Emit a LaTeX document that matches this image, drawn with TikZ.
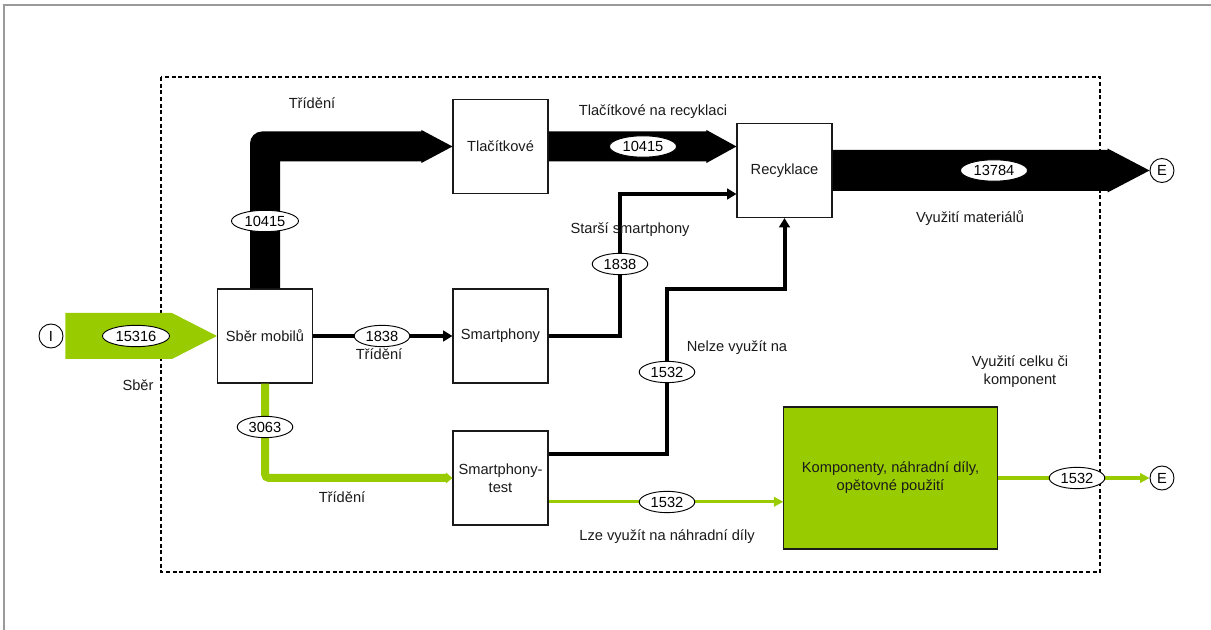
\documentclass[tikz,border=0pt]{standalone}
\usepackage{fontspec}
\setmainfont{Liberation Sans}
\usetikzlibrary{arrows.meta,shapes.geometric,calc}
\definecolor{ink}{HTML}{1A1A1A}
\definecolor{leaf}{HTML}{99CC00}
\definecolor{sheet}{HTML}{9A9A9A}
\newcommand{\Px}{0.75pt}
\newcommand{\BoxW}{71.25pt}
\newcommand{\BoxH}{70.5pt}

\begin{document}
\begin{tikzpicture}[x=\Px, y=-\Px, font=\fontsize{11}{13.5}\selectfont, ink,
  stage/.style={draw=ink, line width=0.8pt, fill=white, minimum width=\BoxW, minimum height=\BoxH, inner sep=1pt, align=center},
  amount/.style={ellipse, draw=black, line width=0.7pt, fill=white, text=black, inner xsep=2.5pt, inner ysep=0.5pt, minimum height=16pt},
  endpoint/.style={circle, draw=black, line width=0.7pt, fill=white, text=black, minimum size=18pt, inner sep=0pt},
  fat/.style={fill=black},
  blackflow/.style={draw=black, line width=3pt, -{Triangle[length=7pt,width=8pt]}},
  leafthick/.style={draw=leaf, line width=6pt, rounded corners=3pt, -{Triangle[length=5pt,width=8pt]}},
  leafflow/.style={draw=leaf, line width=2.5pt, -{Triangle[length=7pt,width=7pt]}}]
\useasboundingbox (0,0) rectangle (1211,630);

% --- Sheet edge and system boundary ------------------------------------------
\draw[sheet, line width=1.2pt] (4,630) -- (4,5) -- (1211,5);
\draw[black, line width=0.9pt, dash pattern=on 3pt off 2pt] (161,77) rectangle (1100,572);

% --- Stages ------------------------------------------------------------------
\node[endpoint] (in) at (51,336) {I};
\node[stage] (sber) at (265,336) {Sběr mobilů};
\node[stage] (tlac) at (500.5,146.5) {Tlačítkové};
\node[stage] (recyk) at (784.5,170.5) {Recyklace};
\node[stage] (smart) at (500.5,336) {Smartphony};
\node[stage] (test) at (500.5,478) {Smartphony-\\test};
\node[stage, fill=leaf, minimum width=160pt, minimum height=106.5pt] (komp) at (890.5,478) {Komponenty, náhradní díly,\\opětovné použití};
\node[endpoint] (e1) at (1162,170.5) {E};
\node[endpoint] (e2) at (1162,478) {E};

% --- Broad flows -------------------------------------------------------------
\fill[leaf] ($(in.east)+(2,-23)$) -- ($(sber.west)+(-45,-23)$) -- (sber.west) -- ($(sber.west)+(-45,23)$) -- ($(in.east)+(2,23)$) -- cycle;

\coordinate (elbow) at (sber.north |- tlac.west);
\fill[fat] ($(sber.north)+(-15,0)$) -- ($(elbow)+(-15,-3)$) arc[start angle=180, end angle=270, radius=12] -- ($(tlac.west)+(-31,-15)$) -- ++(0,-1.5) -- (tlac.west) -- ($(tlac.west)+(-31,16.5)$) -- ++(0,-1.5) -- ($(elbow)+(15,15)$) -- ($(sber.north)+(15,0)$) -- cycle;

\coordinate (tipT) at (recyk.west |- tlac.east);
\fill[fat] ($(tlac.east)+(0,-15)$) -- ($(tipT)+(-30,-15)$) -- ++(0,-1.5) -- (tipT) -- ($(tipT)+(-30,16.5)$) -- ++(0,-1.5) -- ($(tlac.east)+(0,15)$) -- cycle;

\coordinate (tipR) at (e1.west);
\fill[fat] ($(recyk.east)+(0,-20.5)$) -- ($(tipR)+(-42,-20.5)$) -- ++(0,-1.5) -- (tipR) -- ($(tipR)+(-42,22)$) -- ++(0,-1.5) -- ($(recyk.east)+(0,20.5)$) -- cycle;

% --- Narrow flows ------------------------------------------------------------
\draw[blackflow] (sber) -- (smart);

\coordinate (kneeA) at (620,194);
\draw[blackflow] (smart.east) -| (kneeA) -- (kneeA -| recyk.west);

\coordinate (testhi) at ($(test.north east)!0.25!(test.south east)$);
\coordinate (kneeB) at (667,289);
\draw[blackflow] (testhi) -| (kneeB) -| (recyk.south);

\draw[leafthick] (sber.south) |- (test.west);

\coordinate (testlo) at ($(test.north east)!0.75!(test.south east)$);
\draw[leafflow] (testlo) -- (testlo -| komp.west);
\draw[leafflow] (komp) -- (e2);

% --- Amounts -----------------------------------------------------------------
\foreach \name/\x/\y/\val in {q15316/136/336/15316, q10415a/265/221/10415, q10415b/643/146.5/10415, q13784/994/170.5/13784, q1838a/382/336/1838, q1838b/620/264/1838, q1532a/667/372/1532, q3063/265/427/3063, q1532b/667/502/1532, q1532c/1077/478/1532} {
  \node[amount] (\name) at (\x,\y) {\val};
}

% --- Labels ------------------------------------------------------------------
\node (lsortA) at (312,103) {Třídění};
\node (lrecA) at (653,112) {Tlačítkové na recyklaci};
\node (lold) at (630,230) {Starší smartphony};
\node (lmat) at (970,218) {Využití materiálů};
\node (lsortB) at (379,354) {Třídění};
\node (lcollect) at (138,385) {Sběr};
\node (lnot) at (737,348) {Nelze využít na};
\node[align=center] (lwhole) at (1020,372) {Využití celku či\\komponent};
\node (lsortC) at (342,497) {Třídění};
\node (lspare) at (667,537) {Lze využít na náhradní díly};

\end{tikzpicture}
\end{document}
